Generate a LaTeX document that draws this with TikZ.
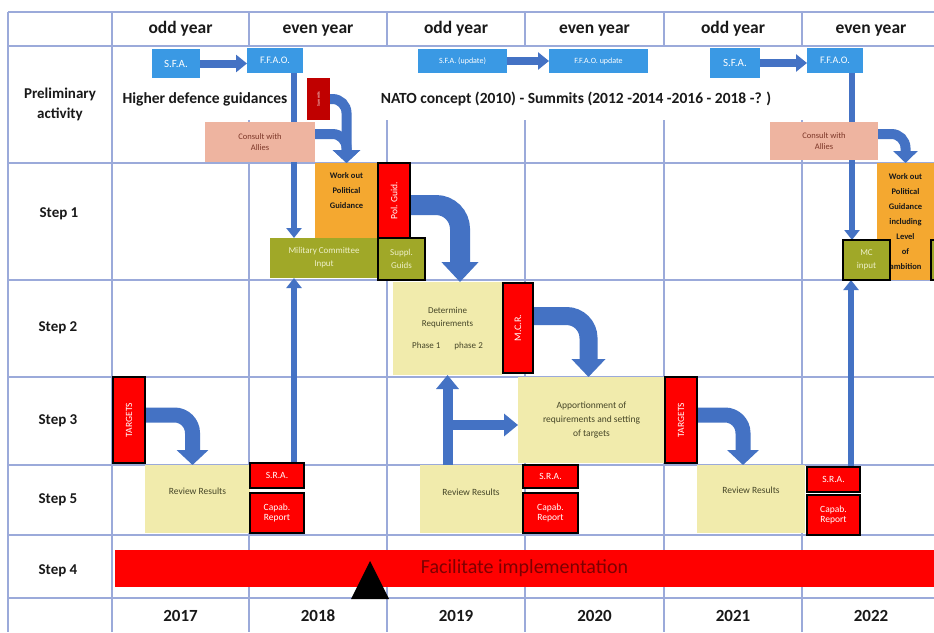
\documentclass[tikz,border=0pt]{standalone}
\usepackage{fontspec}
\usepackage{graphicx}
\setmainfont{Carlito}
\usetikzlibrary{arrows.meta,calc}
\pgfdeclarelayer{bg}
\pgfdeclarelayer{conn}
\pgfsetlayers{bg,conn,main}
\definecolor{gridc}{RGB}{155,170,218}
\definecolor{boxblue}{RGB}{58,153,228}
\definecolor{arrblue}{RGB}{68,114,196}
\definecolor{summitred}{RGB}{192,0,0}
\definecolor{salmon}{RGB}{238,180,160}
\definecolor{salmontext}{RGB}{125,55,40}
\definecolor{orangebox}{RGB}{244,168,48}
\definecolor{olive}{RGB}{160,168,40}
\definecolor{oliveText}{RGB}{238,240,200}
\definecolor{ybox}{RGB}{241,235,172}
\definecolor{ytext}{RGB}{70,70,40}
\definecolor{darktext}{RGB}{25,25,25}
\definecolor{bartext}{RGB}{125,0,0}
\tikzset{
  gridline/.style={draw=gridc, line width=1.2pt},
  box/.style={rectangle, inner sep=1pt, outer sep=0pt, align=center},
  sz/.style 2 args={minimum width=#1pt, minimum height=#2pt},
  bluebox/.style={box, fill=boxblue, text=white, font=\fontsize{10}{11}\selectfont},
  redbox/.style={box, fill=red, draw=black, line width=2.2pt, text=white, font=\fontsize{9.5}{10.5}\selectfont},
  consultbox/.style={box, fill=salmon, text=salmontext, font=\fontsize{8.5}{11}\selectfont},
  orangebx/.style={box, fill=orangebox, text=darktext, font=\bfseries\fontsize{8.5}{15}\selectfont},
  olivebox/.style={box, fill=olive, text=oliveText, font=\fontsize{9}{13}\selectfont},
  olivebl/.style={olivebox, draw=black, line width=2.2pt},
  yellowbox/.style={box, fill=ybox, text=ytext, font=\fontsize{9}{13}\selectfont},
  hdr/.style={text=darktext, text height=12pt, text depth=4pt, font=\bfseries\fontsize{17.5}{19}\selectfont},
  rowlbl/.style={text=darktext, align=center, font=\bfseries\fontsize{15}{20}\selectfont},
  yearlbl/.style={text=darktext, font=\bfseries\fontsize{17}{19}\selectfont},
  guide/.style={text=darktext, text height=11pt, text depth=3.5pt, font=\bfseries\fontsize{15.5}{17}\selectfont},
  thinarr/.style={draw=arrblue, line width=5.5pt, -{Triangle[width=15pt,length=10pt]}},
  harr/.style={draw=arrblue, line width=8pt, -{Triangle[width=17pt,length=11pt]}},
  tarr/.style={draw=arrblue, line width=10pt, -{Triangle[width=22pt,length=14pt]}},
  curvarr/.style n args={4}{draw=arrblue, line width=#1pt, rounded corners=#2pt, -{Triangle[width=#3pt,length=#4pt]}},
}
\begin{document}
\begin{tikzpicture}[x=1pt,y=-1pt]
\useasboundingbox (0,0) rectangle (934,632);
\clip (0,0) rectangle (934,632);

% ---------- grid ----------
\begin{pgfonlayer}{bg}
\fill[white] (0,0) rectangle (934,632);
\foreach \yy in {12,46,163,280,377,465,535,598} \draw[gridline] (8,\yy) -- (934,\yy);
\foreach \xx in {8,112} \draw[gridline] (\xx,12) -- (\xx,632);
\foreach \xx in {249,387,525,664,802} {
  \draw[gridline] (\xx,12) -- (\xx,46);
  \draw[gridline] (\xx,120) -- (\xx,632);
}
\end{pgfonlayer}

% ---------- header / row labels ----------
\node[hdr] (h1) at (180.5,29) {odd year};
\node[hdr] (h2) at (318,29) {even year};
\node[hdr] (h3) at (456,29) {odd year};
\node[hdr] (h4) at (594.5,29) {even year};
\node[hdr] (h5) at (733,29) {odd year};
\node[hdr] (h6) at (871,29) {even year};

\node[rowlbl] (lprelim) at (60,104) {Preliminary\\activity};
\node[rowlbl] (lstep1) at (59,214) {Step 1};
\node[rowlbl] (lstep2) at (58,328) {Step 2};
\node[rowlbl] (lstep3) at (58,421) {Step 3};
\node[rowlbl] (lstep5) at (58,500) {Step 5};
\node[rowlbl] (lstep4) at (58,571) {Step 4};

\node[yearlbl] (y1) at (180.5,616) {2017};
\node[yearlbl] (y2) at (318,616) {2018};
\node[yearlbl] (y3) at (456,616) {2019};
\node[yearlbl] (y4) at (594.5,616) {2020};
\node[yearlbl] (y5) at (733,616) {2021};
\node[yearlbl] (y6) at (871,616) {2022};

% ---------- preliminary row ----------
\node[bluebox, sz={48}{29}, font=\fontsize{11}{12}\selectfont] (sfa1) at (176,63.5) {S.F.A.};
\node[bluebox, sz={56}{25}] (ffao1) at (275,60.5) {F.F.A.O.};
\node[guide] (hdg) at (205,100) {Higher defence guidances};
\node[box, fill=summitred, sz={23}{42}, text=white, font=\fontsize{4}{5}\selectfont] (summit) at (318.5,99) {\rotatebox{90}{Summits}};
\node[consultbox, sz={110}{40}] (consult1) at (260,142) {Consult with\\Allies};

\node[guide] (nato) at (576,100) {NATO concept (2010) - Summits (2012 -2014 -2016 - 2018 -? )};
\node[bluebox, sz={89}{24}, font=\fontsize{8}{9}\selectfont] (sfau) at (462.5,61) {S.F.A. (update)};
\node[bluebox, sz={99}{24}, font=\fontsize{8}{9}\selectfont] (ffaou) at (598.5,61) {F.F.A.O. update};
\node[bluebox, sz={50}{30}, font=\fontsize{11}{12}\selectfont] (sfa2) at (735,63) {S.F.A.};
\node[bluebox, sz={56}{25}] (ffao2) at (835,60.5) {F.F.A.O.};
\node[consultbox, sz={108}{38}] (consult2) at (824,141) {Consult with\\Allies};

% ---------- step 1 ----------
\node[orangebx, sz={63}{77}] (workout1) at (346.5,201.5) {};
\node[text=darktext, align=center, anchor=north, font=\bfseries\fontsize{8.5}{15}\selectfont] (workout1t) at (346.5,169) {Work out\\Political\\Guidance};
\node[redbox, sz={32}{75}] (polguid) at (394,200.5) {\rotatebox{90}{Pol. Guid.}};
\node[olivebox, sz={108}{40}] (mcinput) at (324,258) {Military Committee\\Input};
\node[olivebl, sz={47}{42}] (suppl) at (401.5,259) {Suppl.\\Guids};
\node[orangebx, sz={57}{117}] (workout2) at (905.5,221.5) {Work out\\Political\\Guidance\\including\\Level\\of\\ambition};
\node[olivebl, sz={47}{40}] (mcinput2) at (866.5,260) {MC\\input};
\node[olivebl, sz={30}{40}] (suppl2) at (946,260) {};

% ---------- step 2 / 3 ----------
\node[yellowbox, sz={109}{93}] (detreq) at (447.5,328.5) {Determine\\Requirements\\[9pt]Phase 1\hspace{14pt}phase 2};
\node[redbox, sz={30}{90}, font=\fontsize{10}{11}\selectfont] (mcr) at (518,328) {\rotatebox{90}{M.C.R.}};
\node[yellowbox, sz={147}{86}, font=\fontsize{9.5}{14}\selectfont] (apport) at (591.5,420) {Apportionment of\\requirements and setting\\of targets};
\node[redbox, sz={32}{86}] (targets1) at (129,420) {\rotatebox{90}{TARGETS}};
\node[redbox, sz={32}{86}] (targets2) at (681,420) {\rotatebox{90}{TARGETS}};

% ---------- step 5 ----------
\node[yellowbox, sz={105}{68}] (review1) at (197.5,499) {};
\node[text=ytext, font=\fontsize{9.5}{11}\selectfont] (review1t) at (197.5,491) {Review Results};
\node[redbox, sz={54}{25}] (sra1) at (277,475.5) {S.R.A.};
\node[redbox, sz={54}{40}] (capab1) at (277,513) {Capab.\\Report};

\node[yellowbox, sz={102}{68}] (review2) at (471,499) {};
\node[text=ytext, font=\fontsize{9.5}{11}\selectfont] (review2t) at (471,492) {Review Results};
\node[redbox, sz={55}{23}] (sra2) at (550.5,476.5) {S.R.A.};
\node[redbox, sz={55}{40}] (capab2) at (550.5,513) {Capab.\\Report};

\node[yellowbox, sz={108}{68}] (review3) at (751,499) {};
\node[text=ytext, font=\fontsize{9.5}{11}\selectfont] (review3t) at (751,490) {Review Results};
\node[redbox, sz={53}{25}] (sra3) at (833.5,479.5) {S.R.A.};
\node[redbox, sz={53}{40}] (capab3) at (833.5,515) {Capab.\\Report};

% ---------- step 4 ----------
\node[box, fill=red, sz={819}{37}, text=bartext, font=\fontsize{20}{22}\selectfont] (bar) at (524.5,568.5) {Facilitate implementation};
\fill[black] (370,561) -- (351,599) -- (389,599) -- cycle;

% ---------- connectors ----------
\begin{pgfonlayer}{conn}
\draw[harr] (sfa1.east) -- (sfa1.east -| ffao1.west);
\draw[harr] (sfau.east) -- (sfau.east -| ffaou.west);
\draw[harr] (sfa2.east) -- (sfa2.east -| ffao2.west);

\draw[thinarr] ([xshift=19pt]ffao1.south) -- ([xshift=19pt]ffao1.south |- mcinput.north);
\draw[thinarr] ([xshift=17pt]sra1.north) -- ([xshift=17pt]sra1.north |- mcinput.south);
\draw[thinarr] ([xshift=17pt]ffao2.south) -- ([xshift=17pt]ffao2.south |- mcinput2.north);
\draw[thinarr] ([xshift=17.5pt]sra3.north) -- ([xshift=17.5pt]sra3.north |- mcinput2.south);

\draw[curvarr={10}{14}{27}{13}] (summit.east) -| (workout1.north);
\draw[curvarr={10}{14}{27}{13}] ([yshift=8pt]consult1.east) -| (workout1.north);
\draw[curvarr={10}{14}{24}{12}] ([yshift=7pt]consult2.east) -| (workout2.north);

\draw[curvarr={20}{24}{36}{20}] ([yshift=-4.5pt]polguid.east) -| ([xshift=12.5pt]detreq.north);
\draw[curvarr={18}{22}{33}{18}] ([yshift=12pt]mcr.east) -| ([xshift=-3pt]apport.north);
\draw[curvarr={15}{18}{31}{15}] ([yshift=5pt]targets1.east) -| ([xshift=-5pt]review1.north);
\draw[curvarr={15}{18}{31}{15}] ([yshift=5pt]targets2.east) -| ([xshift=-8pt]review3.north);

\draw[tarr] (detreq.south |- review2.north) -- (detreq.south);
\draw[tarr] ($(detreq.south |- apport.west)+(0,5)$) -- ($(apport.west)+(0,5)$);
\end{pgfonlayer}
\end{tikzpicture}
\end{document}
